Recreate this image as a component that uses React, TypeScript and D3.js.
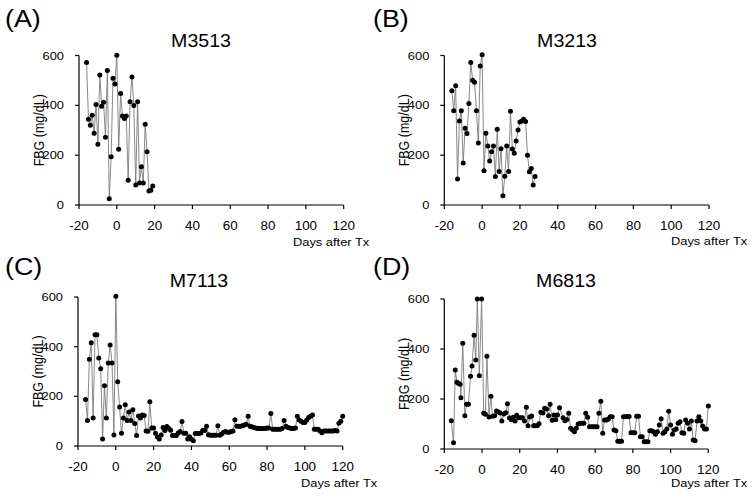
import React from 'react';
import * as d3 from 'd3';

// ---- data ----
const daysA = d3.range(-16, 20);
const valsA = [572, 344, 320, 360, 288, 403, 244, 522, 396, 412, 272, 540, 25, 194, 509, 486, 601, 224, 447, 357, 347, 357, 99, 414, 514, 399, 80, 414, 88, 154, 88, 324, 214, 56, 59, 76];

const daysB = d3.range(-16, 29);
const valsB = [459, 378, 479, 104, 337, 378, 169, 308, 287, 407, 572, 501, 493, 378, 249, 558, 603, 137, 288, 237, 177, 214, 237, 114, 304, 134, 226, 37, 115, 237, 134, 376, 225, 208, 257, 301, 333, 337, 344, 335, 200, 133, 146, 80, 114];

const daysC = d3.range(-16, 121);
const valsC = [
  187, 103, 349, 416, 113, 448, 448, 354, 311, 28, 243, 113, 334, 407, 334, 44, 603, 259, 157, 51,
  113, 166, 103, 137, 103, 146, 91, 42, 121, 113, 125, 123, 60, 59, 178, 72, 72, 51, 36, 28,
  44, 75, 62, 79, 71, 63, 42, 42, 42, 52, 58, 99, 51, 51, 28,
  37, 27, 21, 50, 50, 50, 52, 63, 62, 80, 45, 43, 43, 43, 43, 82, 43, 48, 55, 58,
  55, 55, 58, 60, 106, 80, 80, 80, 82, 85, 88, 120, 80, 78, 75, 72, 70, 70, 70, 70,
  70, 72, 72, 131, 67, 67, 67, 67, 67, 70, 103, 80, 75, 72, 70, 70, 72, 120, 105, 100,
  95, 95, 105, 115, 120, 125, 67, 67, 67, 60, 53, 60, 60, 60, 60, 60, 60, 62, 60, 92,
  100, 120
];

const daysD = [
  -16.3, -15.1, -14.2, -13.3, -12.5, -11.6, -11.2, -10.2, -9.1, -8.2, -7.2, -6.1, -5.3, -4.2, -3.3, -2.5, -1.4, -0.2, 0.9, 1.8,
  2.6, 3.7, 4.7, 5.6, 6.7, 7.7, 8.6, 9.6, 10.5, 11.6, 12.6, 13.5, 14.6, 15.6, 16.5, 17.5, 18.4, 19.5, 20.5, 21.4,
  22.5, 23.5, 24.4, 25.3, 26.3, 27.4, 28.2, 29.3, 30.2, 31.2, 32.3, 33.2, 34.2, 35.3, 36.1, 37.2, 38.2, 39.1, 40.0, 41.1,
  ...d3.range(43, 121)
];
const valsD = [
  113, 25, 316, 267, 263, 259, 205, 423, 133, 179, 179, 291, 332, 455, 356, 600, 293, 600, 143, 139,
  371, 128, 211, 131, 133, 152, 148, 144, 112, 140, 145, 181, 124, 117, 127, 112, 135, 125, 125, 125,
  112, 167, 93, 128, 132, 93, 93, 93, 101, 147, 144, 163, 160, 133, 179, 115, 136, 117, 136, 165,
  125, 113, 118, 143, 83, 76, 69, 83, 100, 103, 103, 103, 143, 127, 89, 89, 89, 89, 89, 143,
  191, 63, 116, 116, 120, 129, 129, 76, 73, 31, 31, 31, 129, 129, 130, 130, 65, 65, 65, 131,
  131, 49, 49, 29, 29, 29, 73, 73, 69, 59, 69, 96, 121, 63, 69, 80, 151, 96, 59, 76,
  80, 103, 109, 65, 63, 116, 103, 80, 112, 36, 33, 112, 129, 112, 92, 80, 80, 172
];

const xTicks = [-20, 0, 20, 40, 60, 80, 100, 120];
const yTicks = [0, 200, 400, 600];
const panelLabels = ['(A)', '(B)', '(C)', '(D)'];
const titles = ['M3513', 'M3213', 'M7113', 'M6813'];
const xAxisTitle = 'Days after Tx';
const yAxisTitle = 'FBG (mg/dL)';

// ---- layout ----
const layout = [
  { x0: 79, x1: 343.7, y0: 205, y1: 55.5, titleX: 201, titleY: 47, labX: 5, labY: 27, xtX: 293, xtY: 246 },
  { x0: 444.3, x1: 709, y0: 205, y1: 55.5, titleX: 567, titleY: 47, labX: 373, labY: 27, xtX: 671, xtY: 245 },
  { x0: 78, x1: 342.7, y0: 446, y1: 297, titleX: 199, titleY: 287, labX: 5, labY: 275, xtX: 301, xtY: 487 },
  { x0: 444.3, x1: 708.3, y0: 449, y1: 299, titleX: 566, titleY: 287, labX: 373, labY: 275, xtX: 671, xtY: 487 },
];
const seriesDays = [daysA, daysB, daysC, daysD];
const seriesVals = [valsA, valsB, valsC, valsD];

const FONT = 'Liberation Sans, Arial, Helvetica, sans-serif';
const SX = 1.12;

function Txt({ x, y, size, anchor = 'start', rot = false, children }: any) {
  const tf = rot
    ? `translate(${x},${y}) rotate(-90) scale(1,${SX})`
    : `translate(${x},${y}) scale(${SX},1)`;
  return (
    <text transform={tf} fontSize={size} fontFamily={FONT} textAnchor={anchor} fill="#000">
      {children}
    </text>
  );
}

function Panel({ idx }: { idx: number }) {
  const L = layout[idx];
  const xs = d3.scaleLinear().domain([-20, 120]).range([L.x0, L.x1]);
  const ys = d3.scaleLinear().domain([0, 600]).range([L.y0, L.y1]);
  const days = seriesDays[idx];
  const vals = seriesVals[idx];
  const pts = days.map((d, i) => [d, vals[i]] as [number, number]);
  const line = d3.line<[number, number]>().x(p => xs(p[0])).y(p => ys(p[1]));
  return (
    <g>
      <Txt x={L.labX} y={L.labY} size={24}>{panelLabels[idx]}</Txt>
      <Txt x={L.titleX} y={L.titleY} size={17.5} anchor="middle">{titles[idx]}</Txt>
      {/* y axis */}
      <line x1={L.x0} x2={L.x0} y1={ys(0)} y2={ys(600)} stroke="#000" strokeWidth={1.2} />
      {yTicks.map(t => (
        <g key={'y' + t}>
          <line x1={L.x0 - 4} x2={L.x0} y1={ys(t)} y2={ys(t)} stroke="#000" strokeWidth={1.2} />
          <Txt x={L.x0 - 15} y={ys(t) + 4} size={11.5} anchor="end">{t}</Txt>
        </g>
      ))}
      {/* x axis */}
      <line x1={xs(-20)} x2={xs(120)} y1={L.y0} y2={L.y0} stroke="#000" strokeWidth={1.2} />
      {xTicks.map(t => (
        <g key={'x' + t}>
          <line x1={xs(t)} x2={xs(t)} y1={L.y0} y2={L.y0 + 4} stroke="#000" strokeWidth={1.2} />
          <Txt x={xs(t)} y={L.y0 + 25} size={12} anchor="middle">{t}</Txt>
        </g>
      ))}
      <Txt x={L.xtX} y={L.xtY} size={11.5}>{xAxisTitle}</Txt>
      <Txt x={L.x0 - 35} y={(L.y0 + L.y1) / 2} size={12.5} anchor="middle" rot>{yAxisTitle}</Txt>
      <path d={line(pts) || ''} fill="none" stroke="#7a7a7a" strokeWidth={0.9} />
      {pts.map((p, i) => (
        <circle key={i} cx={xs(p[0])} cy={ys(p[1])} r={2.5} fill="#000" />
      ))}
    </g>
  );
}

export default function App() {
  return (
    <svg width={754} height={498} style={{ position: 'absolute', left: 0, top: 0, background: '#fff' }}>
      <rect width={754} height={498} fill="#fff" />
      {[0, 1, 2, 3].map(i => <Panel key={i} idx={i} />)}
    </svg>
  );
}
